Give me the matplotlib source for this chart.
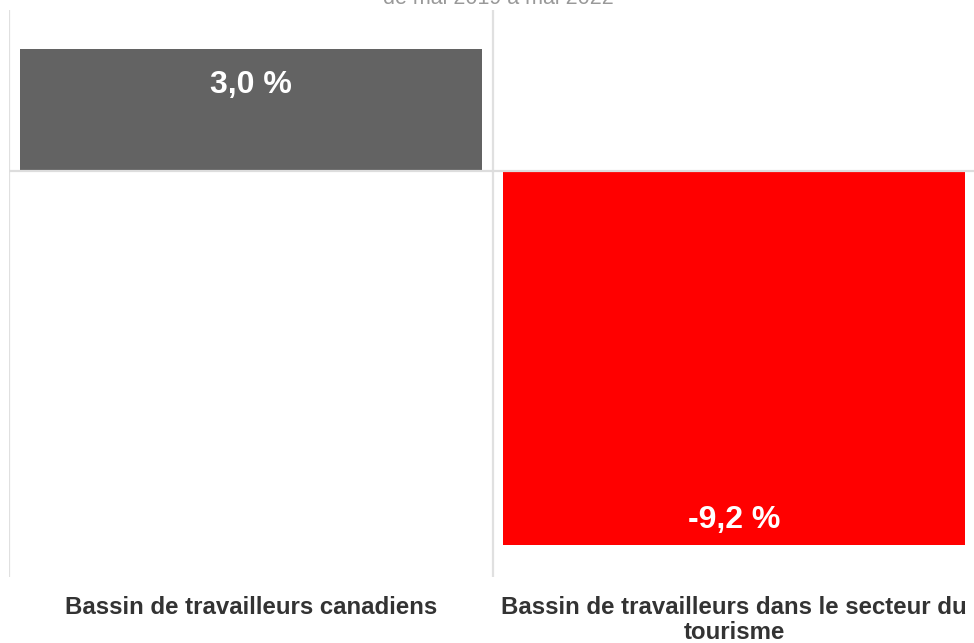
import matplotlib
matplotlib.use("Agg")
import matplotlib.pyplot as plt

# Data
categories = [
    "Bassin de travailleurs canadiens",
    "Bassin de travailleurs dans le secteur du\ntourisme",
]
values = [3.0, -9.2]
value_labels = ["3,0 %", "-9,2 %"]
bar_colours = ["#636363", "#ff0000"]
subtitle = "de mai 2019 à mai 2022"

plt.rcParams["font.family"] = ["Liberation Sans", "DejaVu Sans"]

W, H = 974, 643
fig = plt.figure(figsize=(W / 100, H / 100), dpi=100)
ax = fig.add_axes([9 / W, 1 - 577 / H, 967 / W, 567 / H])

x = list(range(len(categories)))
bars = ax.bar(x, values, width=0.955, color=bar_colours, zorder=2)

ax.set_xlim(-0.5, len(categories) - 0.5)
ax.set_ylim(-9.985, 3.96)

# vertical separators between categories and a zero line
for xv in [-0.5, 0.5, 1.5]:
    ax.axvline(xv, color="#e0e0e0", linewidth=1.6, zorder=1)
ax.axhline(0, color="#dddddd", linewidth=1.6, zorder=3)

for s in ax.spines.values():
    s.set_visible(False)
ax.set_yticks([])
ax.set_xticks(x)
ax.set_xticklabels(categories, fontsize=17.3, fontweight="bold", color="#333333",
                   linespacing=1.08)
ax.tick_params(axis="x", length=0, pad=14)

# value labels inside the bar ends
for bar, v, lab in zip(bars, values, value_labels):
    cx = bar.get_x() + bar.get_width() / 2
    off = -36 if v > 0 else 25
    ax.annotate(lab, (cx, v), xytext=(0, off * 0.72), textcoords="offset points",
                ha="center", va="center", fontsize=23, fontweight="bold",
                color="white", zorder=4)

# subtitle, partly cut off by the top edge as in the source
fig.text(498 / W, 1 - 4 / H, subtitle, ha="center", va="baseline",
         fontsize=15.5, color="#999999")

fig.savefig("out.png", dpi=100)
